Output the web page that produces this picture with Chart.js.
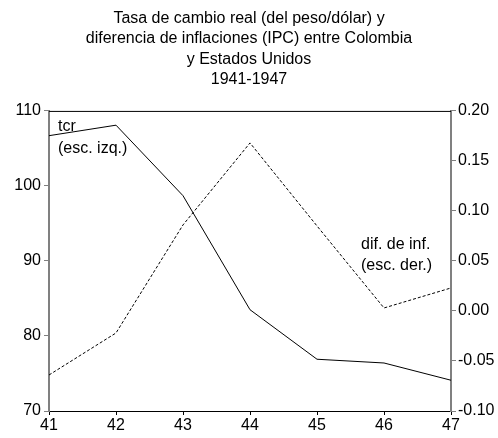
<!DOCTYPE html>
<html>
<head>
<meta charset="utf-8">
<script src="https://cdn.jsdelivr.net/npm/chart.js@4.4.1/dist/chart.umd.min.js"></script>
<style>
  html, body { margin: 0; padding: 0; background: #fff; }
  #wrap { width: 498px; height: 438px; }
</style>
</head>
<body>
<div id="wrap"><canvas id="myChart" width="498" height="438"></canvas></div>
<script>
// years 1941-1947
var years = ['41', '42', '43', '44', '45', '46', '47'];
// real exchange rate (left scale)
var tcr = [106.7, 108.1, 98.7, 83.5, 76.9, 76.4, 74.1];
// inflation difference (right scale)
var difInf = [-0.064, -0.022, 0.086, 0.168, 0.085, 0.003, 0.023];

var titleLines = [
  'Tasa de cambio real (del peso/dólar) y',
  'diferencia de inflaciones (IPC) entre Colombia',
  'y Estados Unidos',
  '1941-1947'
];

Chart.defaults.font.family = '"Liberation Sans", Arial, sans-serif';
Chart.defaults.color = '#000';

// top frame line + series labels inside the plot
var extras = {
  id: 'extras',
  afterDatasetsDraw: function(chart) {
    var c = chart.ctx, a = chart.chartArea;
    c.save();
    c.strokeStyle = '#000';
    c.lineWidth = 1;
    c.beginPath();
    c.moveTo(a.left, a.top + 0.5);
    c.lineTo(a.right, a.top + 0.5);
    c.stroke();

    c.fillStyle = '#000';
    c.font = '16px "Liberation Sans", Arial, sans-serif';
    c.textAlign = 'left';
    c.textBaseline = 'middle';
    c.fillText('tcr', a.left + 9, a.top + 16);
    c.fillText('(esc. izq.)', a.left + 9, a.top + 38);
    c.fillText('dif. de inf.', a.left + 312, a.top + 134);
    c.fillText('(esc. der.)', a.left + 312, a.top + 155);
    c.restore();
  }
};

var ctx = document.getElementById('myChart').getContext('2d');
var chart = new Chart(ctx, {
  type: 'line',
  data: {
    labels: years,
    datasets: [{
      label: 'tcr',
      data: tcr,
      yAxisID: 'y',
      borderColor: '#000',
      borderWidth: 1,
      pointRadius: 0,
      tension: 0
    }, {
      label: 'dif. de inf.',
      data: difInf,
      yAxisID: 'y2',
      borderColor: '#000',
      borderWidth: 1,
      borderDash: [3, 2],
      pointRadius: 0,
      tension: 0
    }]
  },
  options: {
    responsive: false,
    animation: false,
    layout: { padding: 0 },
    plugins: {
      legend: { display: false },
      tooltip: { enabled: false },
      title: {
        display: true,
        text: titleLines,
        color: '#000',
        font: { size: 16, weight: 'normal', lineHeight: 1.28 },
        padding: { top: 8, bottom: 21 }
      }
    },
    scales: {
      x: {
        offset: false,
        grid: { drawOnChartArea: false, tickLength: 4, color: '#000' },
        border: { color: '#000', width: 1 },
        ticks: { font: { size: 16 }, padding: 1, maxRotation: 0 },
        afterFit: function(s) { s.height = 27; }
      },
      y: {
        position: 'left',
        min: 70,
        max: 110,
        ticks: { stepSize: 10, font: { size: 16 }, padding: 3 },
        grid: { drawOnChartArea: false, tickLength: 5, color: '#808080' },
        border: { color: '#808080', width: 2 },
        afterFit: function(s) { s.width = 49; }
      },
      y2: {
        position: 'right',
        min: -0.1,
        max: 0.2,
        ticks: {
          stepSize: 0.05,
          font: { size: 16 },
          padding: 2,
          callback: function(v) { return Number(v).toFixed(2); }
        },
        grid: { drawOnChartArea: false, tickLength: 5, color: '#808080' },
        border: { color: '#808080', width: 2 },
        afterFit: function(s) { s.width = 47; }
      }
    }
  },
  plugins: [extras]
});
</script>
</body>
</html>
